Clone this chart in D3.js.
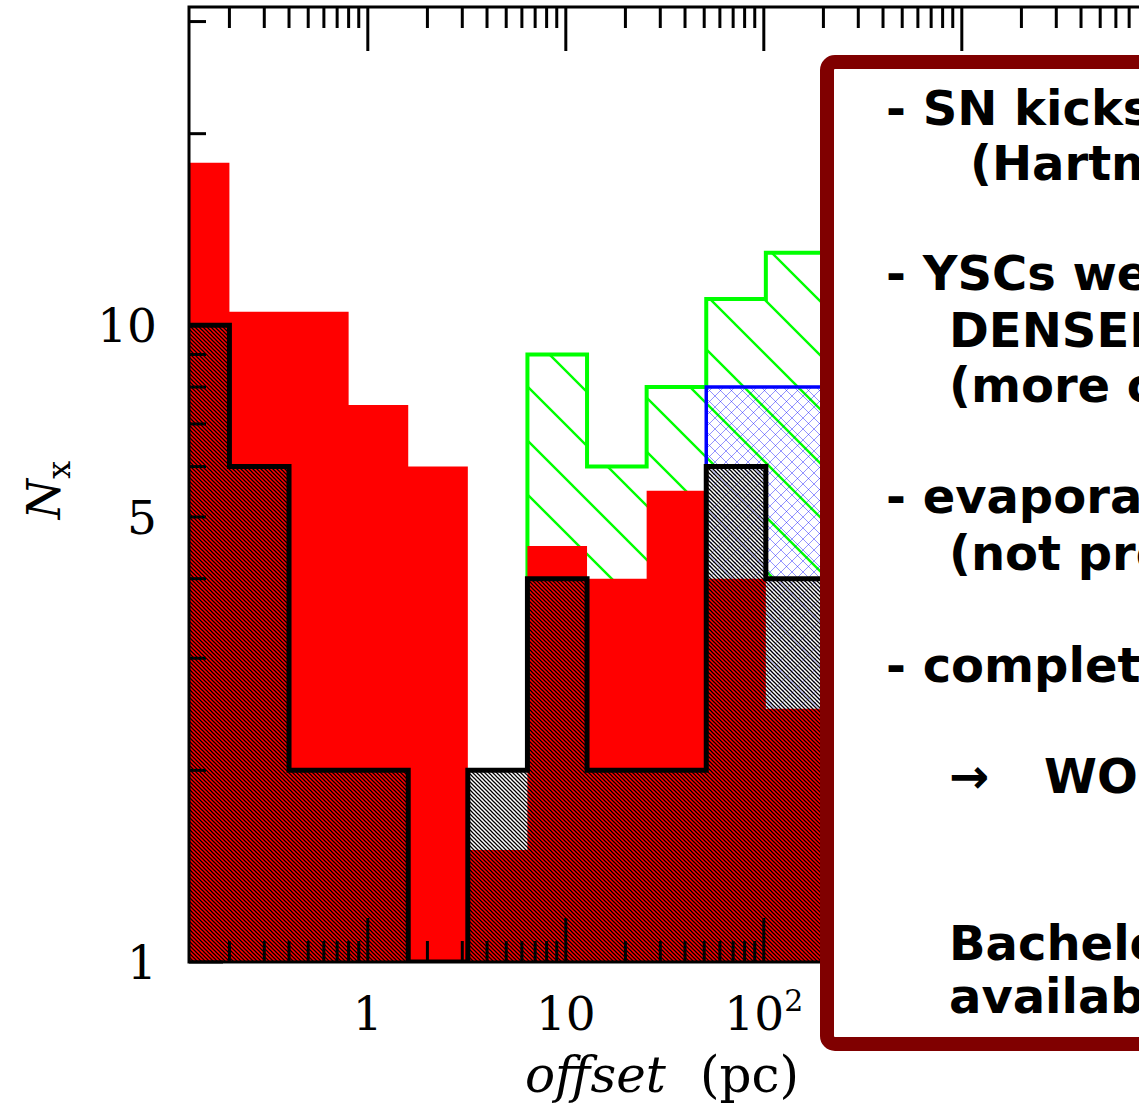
<!DOCTYPE html>
<html>
<head>
<meta charset="utf-8">
<script src="https://cdn.jsdelivr.net/npm/d3@7"></script>
<style>
  html, body { margin: 0; padding: 0; background: #fff; overflow: hidden; }
  svg { display: block; }
</style>
</head>
<body>
<div id="chart"></div>
<script>
// bin edges are powers of two times 0.1 pc
const binEdges = [0.1, 0.2, 0.4, 0.8, 1.6, 3.2, 6.4, 12.8, 25.6, 51.2, 102.4, 204.8];

// counts per bin
const redCounts   = [18, 10.5, 10.5, 7.5, 6, 1.5, 4.5, 4, 5.5, 4, 2.5];
const blackCounts = [10, 6, 2, 2, 0, 2, 4, 2, 2, 6, 4];
const greenCounts = [0, 0, 0, 0, 0, 0, 9, 6, 8, 11, 13];
const blueCounts  = [0, 0, 0, 0, 0, 0, 0, 0, 0, 8, 8];

const xTickLabels = [1, 10, 100];
const yTickLabels = [1, 5, 10];

const noteLines = [
    {text: "- SN kicks", x: 886, y: 125},
    {text: "(Hartman 1997)", x: 970, y: 180},
    {text: "- YSCs were", x: 886, y: 290},
    {text: "DENSER in the past", x: 949, y: 347},
    {text: "(more collisions)", x: 949, y: 402},
    {text: "- evaporation", x: 886, y: 513},
    {text: "(not probed)", x: 949, y: 570},
    {text: "- completeness", x: 886, y: 682},
    {text: "\u2192", x: 949, y: 793},
    {text: "WORK IN PROGRESS", x: 1044, y: 793},
    {text: "Bachelet et al.", x: 949, y: 960},
    {text: "available soon", x: 949, y: 1013}
];

const width = 1139, height = 1105;
const plot = {left: 189, top: 7, bottom: 962};
const pxPerDecade = 198;

const svg = d3.select("#chart").append("svg")
    .attr("width", width)
    .attr("height", height);

const xMin = 0.125, xMax = 1e4;
const x = d3.scaleLog()
    .domain([xMin, xMax])
    .range([plot.left, plot.left + pxPerDecade * Math.log10(xMax / xMin)]);

const y = d3.scaleLog()
    .domain([1, Math.pow(10, 1.5)])
    .range([plot.bottom, plot.top]);

// step outline over the non-empty range of a histogram
function stepPath(counts) {
    let first = counts.findIndex(v => v > 0);
    let last = counts.length - 1;
    while (last > 0 && counts[last] <= 0) last--;
    const base = y.domain()[0];
    const pts = [[x(binEdges[first]), y(base)]];
    for (let i = first; i <= last; i++) {
        const v = counts[i] > 0 ? counts[i] : base;
        pts.push([x(binEdges[i]), y(v)]);
        pts.push([x(binEdges[i + 1]), y(v)]);
    }
    pts.push([x(binEdges[last + 1]), y(base)]);
    return d3.line()(pts);
}

const defs = svg.append("defs");

defs.append("clipPath").attr("id", "plotClip")
    .append("rect")
    .attr("x", plot.left).attr("y", plot.top)
    .attr("width", x.range()[1] - plot.left)
    .attr("height", plot.bottom - plot.top);

defs.append("clipPath").attr("id", "blackClip")
    .append("path")
    .attr("d", stepPath(blackCounts));

// dense black hatch
const pBlack = defs.append("pattern").attr("id", "hatchBlack")
    .attr("patternUnits", "userSpaceOnUse")
    .attr("width", 4).attr("height", 4);
pBlack.append("path")
    .attr("d", "M-1,-1 L5,5 M-1,3 L1,5 M3,-1 L5,1")
    .attr("stroke", "#000").attr("stroke-width", 1.25);

// sparse green hatch
const pGreen = defs.append("pattern").attr("id", "hatchGreen")
    .attr("patternUnits", "userSpaceOnUse")
    .attr("x", 33).attr("y", 0)
    .attr("width", 54).attr("height", 54);
pGreen.append("path")
    .attr("d", "M-2,-2 L56,56 M-2,52 L2,56 M52,-2 L56,2")
    .attr("stroke", "#00ff00").attr("stroke-width", 2.4);

// blue cross hatch
const pBlue = defs.append("pattern").attr("id", "crossBlue")
    .attr("patternUnits", "userSpaceOnUse")
    .attr("width", 11).attr("height", 11);
pBlue.append("path")
    .attr("d", "M0,0 L11,11 M11,0 L0,11")
    .attr("stroke", "#0000ff").attr("stroke-opacity", 0.42).attr("stroke-width", 1);

const g = svg.append("g").attr("clip-path", "url(#plotClip)");

function drawHist(parent, counts, fill, stroke, sw) {
    return parent.append("path")
        .attr("d", stepPath(counts))
        .attr("fill", fill)
        .attr("stroke", stroke)
        .attr("stroke-width", sw)
        .attr("stroke-linejoin", "miter");
}

drawHist(g, greenCounts, "url(#hatchGreen)", "#00ff00", 4);
drawHist(g, blueCounts, "url(#crossBlue)", "#0000ff", 3.5);
// the black histogram hides what lies beneath it, only faint blue shows
drawHist(g, blackCounts, "#fff", "none", 0);
drawHist(g.append("g").attr("clip-path", "url(#blackClip)"), blueCounts, "url(#crossBlue)", "none", 0)
    .attr("opacity", 0.6);
drawHist(g, redCounts, "#ff0000", "none", 0);
drawHist(g, blackCounts, "url(#hatchBlack)", "#000", 5);

// axes frame and ticks (inside, mirrored on top)
const axisG = svg.append("g").attr("stroke", "#000").attr("stroke-width", 3);
const xRight = x.range()[1];
axisG.append("path")
    .attr("fill", "none")
    .attr("d", `M${xRight},${plot.top} H${plot.left} V${plot.bottom} H${xRight}`);

const isMajor = v => Math.abs(Math.log10(v) - Math.round(Math.log10(v))) < 1e-6;

x.ticks().forEach(v => {
    const len = isMajor(v) ? 44 : 21;
    const px = x(v);
    axisG.append("line").attr("x1", px).attr("x2", px)
        .attr("y1", plot.bottom).attr("y2", plot.bottom - len);
    axisG.append("line").attr("x1", px).attr("x2", px)
        .attr("y1", plot.top).attr("y2", plot.top + len);
});

y.ticks().forEach(v => {
    const len = isMajor(v) ? 34 : 17;
    const py = y(v);
    axisG.append("line").attr("x1", plot.left).attr("x2", plot.left + len)
        .attr("y1", py).attr("y2", py);
});

// tick labels
const serif = "'DejaVu Serif', serif";
xTickLabels.forEach(v => {
    const t = svg.append("text")
        .attr("x", x(v)).attr("y", 1030)
        .attr("text-anchor", "middle")
        .attr("font-family", serif).attr("font-size", 47);
    const e = Math.round(Math.log10(v));
    if (e >= 2) {
        t.append("tspan").text("10");
        t.append("tspan").attr("dy", -19).attr("font-size", 30).text(e);
    } else {
        t.text(v);
    }
});

yTickLabels.forEach(v => {
    svg.append("text")
        .attr("x", 157).attr("y", y(v) + 17)
        .attr("text-anchor", "end")
        .attr("font-family", serif).attr("font-size", 47)
        .text(v);
});

// axis titles
svg.append("text")
    .attr("x", 525).attr("y", 1092)
    .attr("font-family", serif).attr("font-size", 50)
    .attr("font-style", "italic")
    .text("offset");
svg.append("text")
    .attr("x", 700).attr("y", 1092)
    .attr("font-family", serif).attr("font-size", 50)
    .text("(pc)");

const yTitle = svg.append("text")
    .attr("transform", "translate(60,490) rotate(-90)")
    .attr("text-anchor", "middle")
    .attr("font-family", serif).attr("font-size", 46);
yTitle.append("tspan").attr("font-style", "italic").text("N");
yTitle.append("tspan").attr("dy", 10).attr("font-size", 32).text("x");

// note box
svg.append("rect")
    .attr("x", 827).attr("y", 62)
    .attr("width", 400).attr("height", 982)
    .attr("rx", 8)
    .attr("fill", "#fff")
    .attr("stroke", "#800000")
    .attr("stroke-width", 14);

svg.append("g").selectAll("text")
    .data(noteLines)
    .join("text")
    .attr("x", d => d.x).attr("y", d => d.y)
    .attr("font-family", "'DejaVu Sans', sans-serif")
    .attr("font-weight", "bold")
    .attr("font-size", 48)
    .text(d => d.text);
</script>
</body>
</html>
